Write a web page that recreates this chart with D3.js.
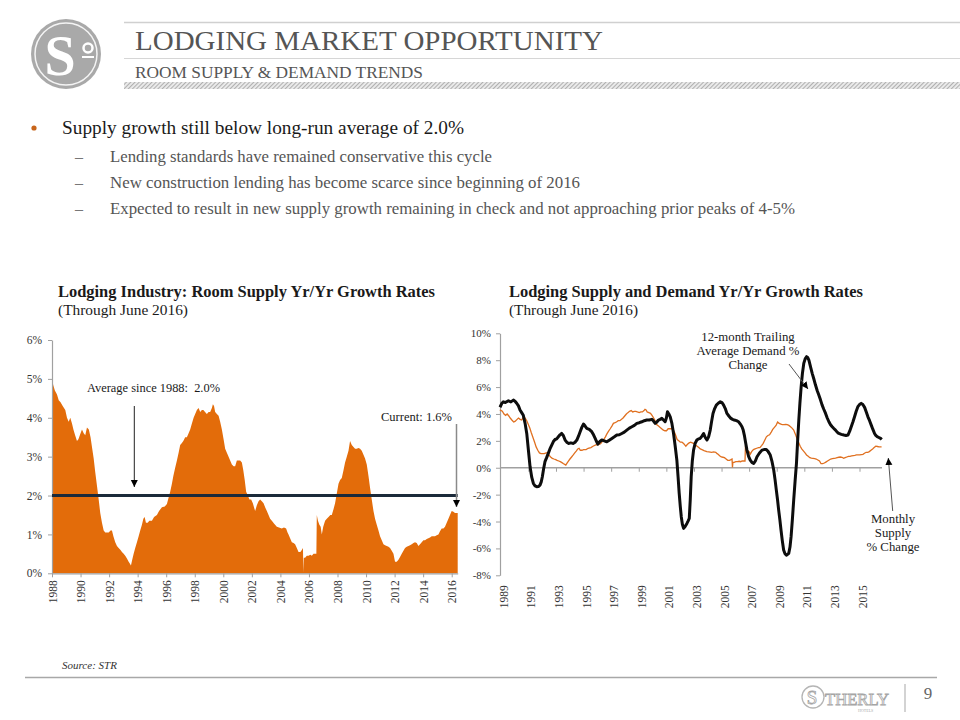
<!DOCTYPE html>
<html><head><meta charset="utf-8">
<script src="https://cdn.jsdelivr.net/npm/d3@7"></script>
<style>
body{margin:0;background:#fff}
text{font-family:"Liberation Serif","Times New Roman",serif}
</style>
</head><body>
<svg id="c" width="960" height="720"></svg>
<script>
// ---------------- DATA ----------------
const supplyYears = [1988.00,1988.08,1988.20,1988.35,1988.47,1988.60,1988.75,1988.93,1989.05,1989.17,1989.28,1989.40,1989.50,1989.62,1989.75,1989.85,1990.00,1990.10,1990.22,1990.33,1990.45,1990.58,1990.70,1990.80,1990.92,1991.03,1991.15,1991.27,1991.38,1991.50,1991.62,1991.73,1991.85,1991.97,1992.10,1992.20,1992.30,1992.43,1992.55,1992.67,1992.80,1992.90,1993.02,1993.13,1993.25,1993.37,1993.45,1993.53,1993.62,1993.72,1993.83,1993.95,1994.07,1994.18,1994.30,1994.40,1994.49,1994.58,1994.70,1994.82,1995.00,1995.15,1995.35,1995.50,1995.70,1995.90,1996.05,1996.17,1996.28,1996.40,1996.50,1996.62,1996.75,1996.87,1996.98,1997.10,1997.20,1997.33,1997.45,1997.57,1997.68,1997.80,1997.92,1998.03,1998.15,1998.27,1998.38,1998.50,1998.60,1998.72,1998.85,1998.97,1999.08,1999.20,1999.27,1999.35,1999.43,1999.55,1999.67,1999.78,1999.90,2000.02,2000.13,2000.25,2000.37,2000.48,2000.60,2000.72,2000.83,2000.95,2001.07,2001.18,2001.30,2001.40,2001.50,2001.60,2001.72,2001.83,2001.95,2002.07,2002.15,2002.23,2002.35,2002.47,2002.58,2002.70,2002.82,2002.93,2003.05,2003.17,2003.28,2003.40,2003.55,2003.75,2003.90,2004.10,2004.25,2004.40,2004.50,2004.57,2004.68,2004.80,2004.92,2005.03,2005.15,2005.27,2005.40,2005.50,2005.58,2005.61,2005.64,2005.73,2005.85,2005.97,2006.10,2006.20,2006.32,2006.43,2006.52,2006.55,2006.63,2006.73,2006.82,2006.90,2007.00,2007.13,2007.25,2007.37,2007.50,2007.60,2007.72,2007.83,2007.95,2008.07,2008.18,2008.30,2008.42,2008.53,2008.65,2008.77,2008.88,2009.00,2009.12,2009.23,2009.35,2009.47,2009.58,2009.70,2009.82,2009.93,2010.05,2010.17,2010.28,2010.40,2010.52,2010.63,2010.75,2010.87,2010.98,2011.10,2011.22,2011.33,2011.45,2011.57,2011.68,2011.80,2011.92,2012.03,2012.15,2012.27,2012.38,2012.50,2012.62,2012.73,2012.85,2012.97,2013.08,2013.20,2013.32,2013.43,2013.55,2013.67,2013.78,2013.90,2014.02,2014.13,2014.25,2014.37,2014.48,2014.60,2014.72,2014.83,2014.95,2015.07,2015.18,2015.30,2015.42,2015.53,2015.65,2015.77,2015.88,2016.00,2016.12,2016.23,2016.42];
const supplyPct = [5.10,4.85,4.70,4.60,4.45,4.40,4.30,4.20,4.00,3.90,4.00,3.85,3.70,3.55,3.40,3.45,3.60,3.70,3.60,3.55,3.75,3.70,3.50,3.25,2.95,2.60,2.25,1.90,1.55,1.30,1.10,1.05,1.05,1.05,1.10,1.10,0.95,0.80,0.70,0.65,0.60,0.55,0.50,0.45,0.38,0.30,0.25,0.20,0.35,0.50,0.65,0.80,0.95,1.10,1.25,1.40,1.45,1.30,1.30,1.35,1.35,1.45,1.50,1.60,1.70,1.72,1.78,1.95,2.10,2.30,2.50,2.70,2.90,3.10,3.30,3.35,3.40,3.50,3.50,3.60,3.70,3.85,4.00,4.10,4.20,4.25,4.15,4.20,4.20,4.15,4.10,4.15,4.15,4.25,4.35,4.30,4.15,4.10,4.05,3.90,3.70,3.45,3.20,3.10,3.00,2.90,2.80,2.75,2.75,2.90,2.90,2.90,2.85,2.65,2.40,2.10,2.00,1.90,1.90,1.80,1.70,1.60,1.75,1.85,1.90,1.85,1.80,1.70,1.60,1.50,1.40,1.35,1.28,1.20,1.18,1.15,1.18,1.15,1.05,1.00,0.90,0.80,0.78,0.75,0.65,0.55,0.55,0.60,0.65,0.02,0.40,0.40,0.45,0.45,0.48,0.45,0.50,0.50,0.50,1.50,1.35,1.25,1.20,1.00,1.20,1.35,1.40,1.45,1.50,1.50,1.65,1.80,2.05,2.30,2.40,2.45,2.65,2.85,3.00,3.15,3.40,3.30,3.25,3.20,3.20,3.22,3.20,3.15,3.05,2.95,2.80,2.50,2.20,1.90,1.60,1.40,1.25,1.10,0.95,0.85,0.75,0.72,0.70,0.68,0.65,0.58,0.50,0.30,0.30,0.35,0.42,0.50,0.58,0.65,0.68,0.70,0.72,0.75,0.78,0.80,0.78,0.70,0.75,0.80,0.85,0.85,0.88,0.90,0.92,0.95,0.95,0.95,0.98,1.00,1.08,1.15,1.15,1.20,1.30,1.40,1.50,1.60,1.58,1.55,1.55];

const demandYears = [1988.76,1988.90,1989.00,1989.15,1989.37,1989.55,1989.73,1989.85,1989.97,1990.10,1990.21,1990.33,1990.45,1990.58,1990.70,1990.82,1990.94,1991.06,1991.18,1991.30,1991.42,1991.54,1991.66,1991.75,1991.83,1991.92,1992.02,1992.14,1992.26,1992.38,1992.51,1992.63,1992.75,1992.87,1992.99,1993.11,1993.23,1993.35,1993.48,1993.60,1993.72,1993.90,1994.08,1994.20,1994.33,1994.45,1994.57,1994.69,1994.81,1994.93,1995.05,1995.23,1995.41,1995.54,1995.66,1995.76,1995.85,1996.00,1996.14,1996.32,1996.50,1996.68,1996.87,1997.05,1997.23,1997.41,1997.59,1997.77,1997.95,1998.14,1998.32,1998.50,1998.68,1998.86,1999.04,1999.22,1999.40,1999.58,1999.77,1999.90,2000.01,2000.13,2000.25,2000.37,2000.49,2000.61,2000.73,2000.82,2000.90,2001.00,2001.10,2001.22,2001.34,2001.46,2001.58,2001.67,2001.75,2001.83,2001.90,2001.98,2002.07,2002.19,2002.31,2002.40,2002.48,2002.55,2002.62,2002.70,2002.79,2002.90,2003.03,2003.15,2003.27,2003.40,2003.52,2003.64,2003.76,2003.88,2004.00,2004.10,2004.20,2004.32,2004.44,2004.58,2004.73,2004.85,2004.97,2005.09,2005.21,2005.35,2005.50,2005.62,2005.74,2005.90,2006.06,2006.18,2006.30,2006.39,2006.47,2006.56,2006.66,2006.78,2006.90,2007.02,2007.15,2007.27,2007.39,2007.57,2007.75,2007.90,2008.06,2008.20,2008.35,2008.48,2008.60,2008.70,2008.79,2008.88,2008.96,2009.05,2009.13,2009.22,2009.32,2009.42,2009.52,2009.60,2009.69,2009.78,2009.86,2009.95,2010.05,2010.15,2010.25,2010.33,2010.42,2010.50,2010.59,2010.68,2010.78,2010.88,2010.98,2011.06,2011.15,2011.27,2011.39,2011.51,2011.63,2011.75,2011.87,2011.99,2012.11,2012.23,2012.36,2012.48,2012.60,2012.72,2012.84,2012.96,2013.08,2013.20,2013.32,2013.50,2013.69,2013.84,2013.98,2014.10,2014.22,2014.34,2014.46,2014.58,2014.70,2014.82,2014.94,2015.06,2015.19,2015.31,2015.43,2015.55,2015.67,2015.79,2015.91,2016.00,2016.10,2016.22,2016.35,2016.43];
const demandPct = [4.50,4.80,4.90,4.85,4.98,4.90,5.03,4.95,4.80,4.60,4.30,4.10,3.90,3.30,2.55,1.30,0.07,-0.70,-1.17,-1.35,-1.41,-1.40,-1.29,-1.05,-0.67,-0.10,0.45,0.75,1.07,1.40,1.69,1.95,2.10,2.15,2.30,2.45,2.55,2.40,2.06,1.90,1.81,1.85,1.81,1.90,2.06,2.35,2.68,3.00,3.25,3.10,2.93,2.85,2.68,2.45,2.18,1.95,1.76,1.95,2.06,2.00,1.93,2.05,2.18,2.30,2.43,2.45,2.55,2.65,2.80,2.95,3.05,3.15,3.30,3.35,3.42,3.50,3.55,3.55,3.60,3.45,3.30,3.40,3.55,3.60,3.67,3.55,3.42,3.70,4.17,4.00,3.79,3.30,2.55,1.60,0.57,-0.70,-1.91,-2.90,-3.64,-4.20,-4.51,-4.35,-4.14,-3.95,-3.77,-2.40,-0.67,0.50,1.31,1.80,2.06,2.15,2.18,2.35,2.55,2.25,2.06,2.30,2.80,3.45,4.04,4.40,4.66,4.80,4.91,4.85,4.66,4.40,4.04,3.85,3.67,3.60,3.55,3.50,3.42,3.25,3.05,2.80,2.43,1.90,1.31,0.85,0.57,0.40,0.32,0.50,0.82,1.10,1.31,1.35,1.36,1.20,0.94,0.45,-0.17,-0.90,-1.66,-2.40,-3.15,-3.90,-4.64,-5.40,-6.12,-6.40,-6.50,-6.45,-6.37,-5.90,-5.13,-3.90,-2.40,-1.00,0.32,1.90,3.55,4.80,6.03,7.00,7.76,8.10,8.26,8.20,8.00,7.50,7.02,6.60,6.15,5.75,5.41,5.05,4.66,4.35,4.04,3.70,3.42,3.20,3.05,2.92,2.80,2.65,2.55,2.48,2.43,2.40,2.43,2.70,3.05,3.40,3.79,4.20,4.54,4.70,4.79,4.70,4.49,4.15,3.79,3.50,3.17,2.85,2.55,2.40,2.31,2.25,2.18,2.10];

const leftYearTicks = [1988,1990,1992,1994,1996,1998,2000,2002,2004,2006,2008,2010,2012,2014,2016];
const rightYearTicks = [1989,1991,1993,1995,1997,1999,2001,2003,2005,2007,2009,2011,2013,2015];
const leftPctTicks = [0,1,2,3,4,5,6];
const rightPctTicks = [-8,-6,-4,-2,0,2,4,6,8,10];
const longRunAverage = 2.0;

// ---------------- DRAW ----------------
const svg = d3.select('#c');
const defs = svg.append('defs');
const pat = defs.append('pattern').attr('id','hatch').attr('patternUnits','userSpaceOnUse')
  .attr('width',3).attr('height',3).attr('patternTransform','rotate(45)');
pat.append('rect').attr('width',3).attr('height',3).attr('fill','#ececec');
pat.append('line').attr('x1',0.5).attr('y1',0).attr('x2',0.5).attr('y2',3).attr('stroke','#b0b0b0').attr('stroke-width',1.2);
defs.append('marker').attr('id','arr').attr('viewBox','0 0 10 10').attr('refX',10).attr('refY',5)
  .attr('markerWidth',7).attr('markerHeight',8).attr('markerUnits','userSpaceOnUse').attr('orient','auto')
  .append('path').attr('d','M0,0L10,5L0,10Z').attr('fill','#000');

// Header logo
const lg = svg.append('g');
lg.append('circle').attr('cx',66).attr('cy',54).attr('r',35).attr('fill','#a9a9a9');
lg.append('circle').attr('cx',66).attr('cy',54).attr('r',31).attr('fill','none').attr('stroke','#f4f4f4').attr('stroke-width',1.5);
lg.append('text').attr('x',60).attr('y',75).attr('text-anchor','middle').attr('font-size',56).attr('font-weight','bold').attr('fill','#fff').text('S');
lg.append('circle').attr('cx',88).attr('cy',48).attr('r',4.5).attr('fill','none').attr('stroke','#fff').attr('stroke-width',2.5);
lg.append('line').attr('x1',82).attr('x2',94).attr('y1',57).attr('y2',57).attr('stroke','#fff').attr('stroke-width',2);

// Header lines
svg.append('line').attr('x1',124).attr('x2',960).attr('y1',22.5).attr('y2',22.5).attr('stroke','#d0d0d0').attr('stroke-width',1.5);
svg.append('line').attr('x1',124).attr('x2',960).attr('y1',58.5).attr('y2',58.5).attr('stroke','#d6d6d6').attr('stroke-width',1.2);
svg.append('rect').attr('x',124).attr('y',82).attr('width',836).attr('height',7).attr('fill','url(#hatch)');

svg.append('text').attr('x',135).attr('y',50).attr('font-size',28).attr('fill','#555')
  .attr('textLength',468).attr('lengthAdjust','spacingAndGlyphs').text('LODGING MARKET OPPORTUNITY');
svg.append('text').attr('x',135).attr('y',78).attr('font-size',16.5).attr('fill','#555')
  .attr('textLength',288).attr('lengthAdjust','spacingAndGlyphs').text('ROOM SUPPLY & DEMAND TRENDS');

// Bullets
svg.append('circle').attr('cx',34).attr('cy',128).attr('r',2.6).attr('fill','#c8651b');
svg.append('text').attr('x',62).attr('y',134).attr('font-size',19.5).attr('fill','#1a1a1a')
  .attr('textLength',402).attr('lengthAdjust','spacingAndGlyphs').text('Supply growth still below long-run average of 2.0%');
const subs = [
  ['Lending standards have remained conservative this cycle',382],
  ['New construction lending has become scarce since beginning of 2016',470],
  ['Expected to result in new supply growth remaining in check and not approaching prior peaks of 4-5%',685]
];
subs.forEach((s,i)=>{
  const y = 162 + i*26;
  svg.append('text').attr('x',75).attr('y',y).attr('font-size',16).attr('fill','#777').text('–');
  svg.append('text').attr('x',110).attr('y',y).attr('font-size',16.5).attr('fill','#555')
    .attr('textLength',s[1]).attr('lengthAdjust','spacingAndGlyphs').text(s[0]);
});

// Chart titles
svg.append('text').attr('x',58).attr('y',297).attr('font-size',16).attr('font-weight','bold').attr('fill','#1a1a1a')
  .attr('textLength',377).attr('lengthAdjust','spacingAndGlyphs').text('Lodging Industry: Room Supply Yr/Yr Growth Rates');
svg.append('text').attr('x',58).attr('y',315).attr('font-size',15.5).attr('fill','#1a1a1a')
  .attr('textLength',130).attr('lengthAdjust','spacingAndGlyphs').text('(Through June 2016)');
svg.append('text').attr('x',509).attr('y',297).attr('font-size',16).attr('font-weight','bold').attr('fill','#1a1a1a')
  .attr('textLength',354).attr('lengthAdjust','spacingAndGlyphs').text('Lodging Supply and Demand Yr/Yr Growth Rates');
svg.append('text').attr('x',509).attr('y',315).attr('font-size',15.5).attr('fill','#1a1a1a')
  .attr('textLength',129).attr('lengthAdjust','spacingAndGlyphs').text('(Through June 2016)');

// ---------- Left chart ----------
const xL = d3.scaleLinear().domain([1988, 2016.42]).range([52, 457.7]);
const yL = d3.scaleLinear().domain([0, 6]).range([573.3, 340]);
const supply = supplyYears.map((y,i)=>({y:y, v:supplyPct[i]}));
svg.append('path').datum(supply)
  .attr('d', d3.area().x(d=>xL(d.y)).y0(yL(0)).y1(d=>yL(d.v)))
  .attr('fill','#E36C0A');

function styleAxis(g, fs){
  g.selectAll('path.domain').attr('stroke','#a0a0a0').attr('stroke-width',1.2);
  g.selectAll('.tick line').attr('stroke','#a0a0a0');
  g.selectAll('.tick text').attr('fill','#333').attr('font-size',fs)
    .attr('font-family','"Liberation Serif","Times New Roman",serif');
}
const gyL = svg.append('g').attr('transform','translate(52,0)')
  .call(d3.axisLeft(yL).tickValues(leftPctTicks).tickSize(4).tickSizeOuter(0).tickPadding(6).tickFormat(d=>d+'%'));
styleAxis(gyL, 11.5);
const gxL = svg.append('g').attr('transform','translate(0,'+yL(0)+')')
  .call(d3.axisBottom(xL).tickValues(leftYearTicks).tickSize(4).tickSizeOuter(0).tickFormat(d=>String(d)));
styleAxis(gxL, 11.5);
gxL.selectAll('.tick text').attr('transform','rotate(-90)').attr('text-anchor','end')
  .attr('x',-7).attr('y',0).attr('dy','0.35em');

svg.append('line').attr('x1',xL(1988)).attr('x2',xL(2016.42)).attr('y1',yL(longRunAverage)).attr('y2',yL(longRunAverage))
  .attr('stroke','#1b2a3a').attr('stroke-width',3);

// Left annotations
svg.append('text').attr('x',87).attr('y',392).attr('font-size',13.5).attr('fill','#1a1a1a')
  .style('white-space','pre').attr('textLength',133).attr('lengthAdjust','spacingAndGlyphs').text('Average since 1988:  2.0%');
svg.append('line').attr('x1',134.3).attr('x2',134.3).attr('y1',406).attr('y2',487)
  .attr('stroke','#222').attr('stroke-width',1).attr('marker-end','url(#arr)');
svg.append('text').attr('x',381).attr('y',421).attr('font-size',13.5).attr('fill','#1a1a1a')
  .attr('textLength',71).attr('lengthAdjust','spacingAndGlyphs').text('Current: 1.6%');
svg.append('line').attr('x1',456.5).attr('x2',456.5).attr('y1',424).attr('y2',507)
  .attr('stroke','#8a8a8a').attr('stroke-width',1.5).attr('marker-end','url(#arr)');

// ---------- Right chart ----------
const xR = d3.scaleLinear().domain([1989, 2015]).range([503.3, 862]);
const yR = d3.scaleLinear().domain([-8, 10]).range([575.3, 333.3]);

const gyR = svg.append('g').attr('transform','translate(500,0)')
  .call(d3.axisLeft(yR).tickValues(rightPctTicks).tickSize(4).tickSizeOuter(0).tickPadding(5).tickFormat(d=>d+'%'));
styleAxis(gyR, 11);

// zero line with ticks
svg.append('line').attr('x1',500).attr('x2',xR(2016.45)).attr('y1',yR(0)).attr('y2',yR(0))
  .attr('stroke','#a0a0a0').attr('stroke-width',1.3);
const gz = svg.append('g').attr('transform','translate(-2.5,'+yR(0)+')')
  .call(d3.axisBottom(xR).tickValues(rightYearTicks.slice(1)).tickSize(4).tickFormat(''));
gz.select('path.domain').remove();
gz.selectAll('.tick line').attr('stroke','#a0a0a0');

const gxR = svg.append('g').attr('transform','translate(0,'+yR(-8)+')')
  .call(d3.axisBottom(xR).tickValues(rightYearTicks).tickSize(0).tickFormat(d=>String(d)));
gxR.select('path.domain').remove();
styleAxis(gxR, 11.5);
gxR.selectAll('.tick text').attr('transform','rotate(-90)').attr('text-anchor','end')
  .attr('x',-10).attr('y',0).attr('dy','0.35em');

const supplyR = supply.filter(d=>d.y >= 1988.75);
svg.append('path').datum(supplyR)
  .attr('d', d3.line().x(d=>xR(d.y)).y(d=>yR(d.v)))
  .attr('fill','none').attr('stroke','#E07020').attr('stroke-width',1.3);

const demand = demandYears.map((y,i)=>({y:y, v:demandPct[i]}));
svg.append('path').datum(demand)
  .attr('d', d3.line().x(d=>xR(d.y)).y(d=>yR(d.v)))
  .attr('fill','none').attr('stroke','#0d0d0d').attr('stroke-width',3).attr('stroke-linejoin','round');

// Right annotations
const ann1 = ['12-month Trailing','Average Demand %','Change'];
ann1.forEach((t,i)=>svg.append('text').attr('x',748).attr('y',341+i*14.2).attr('text-anchor','middle')
  .attr('font-size',12.8).attr('fill','#1a1a1a').text(t));
svg.append('line').attr('x1',789).attr('y1',364).attr('x2',808).attr('y2',389)
  .attr('stroke','#555').attr('stroke-width',1).attr('marker-end','url(#arr)');
const ann2 = ['Monthly','Supply','% Change'];
ann2.forEach((t,i)=>svg.append('text').attr('x',893).attr('y',523+i*14.2).attr('text-anchor','middle')
  .attr('font-size',12.8).attr('fill','#1a1a1a').text(t));
svg.append('line').attr('x1',892.7).attr('y1',511).attr('x2',888.3).attr('y2',458)
  .attr('stroke','#555').attr('stroke-width',1).attr('marker-end','url(#arr)');

// ---------- Footer ----------
svg.append('text').attr('x',62).attr('y',669).attr('font-size',11).attr('font-style','italic').attr('fill','#333').text('Source: STR');
svg.append('line').attr('x1',25).attr('x2',937).attr('y1',677.5).attr('y2',677.5).attr('stroke','#a8a8a8').attr('stroke-width',1.5);
const fl = svg.append('g');
fl.append('circle').attr('cx',813).attr('cy',697).attr('r',11).attr('fill','none').attr('stroke','#b5b5b5').attr('stroke-width',1.3);
fl.append('text').attr('x',812).attr('y',704).attr('text-anchor','middle').attr('font-size',19).attr('fill','none').attr('stroke','#a5a5a5').attr('stroke-width',0.8).text('S');
fl.append('text').attr('x',825).attr('y',705).attr('font-size',17).attr('fill','none').attr('stroke','#a5a5a5').attr('stroke-width',0.8)
  .attr('textLength',64).attr('lengthAdjust','spacingAndGlyphs').text('THERLY');
fl.append('text').attr('x',858).attr('y',712).attr('font-size',4).attr('fill','#aaa').text('HOTELS');
svg.append('line').attr('x1',905).attr('x2',905).attr('y1',684).attr('y2',712).attr('stroke','#c4c4c4').attr('stroke-width',1.5);
svg.append('text').attr('x',928).attr('y',699).attr('text-anchor','middle').attr('font-size',17)
  .attr('font-family','"Open Sans","DejaVu Sans",sans-serif').attr('font-weight',300).attr('fill','#666').text('9');
</script>
</body></html>
